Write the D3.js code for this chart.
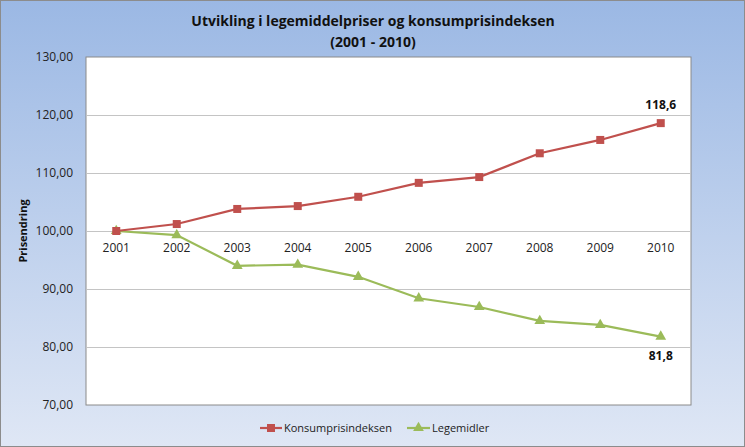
<!DOCTYPE html>
<html><head><meta charset="utf-8">
<script src="https://cdn.jsdelivr.net/npm/d3@7"></script>
<style>body{margin:0;padding:0;overflow:hidden}svg{display:block}</style>
</head><body>
<script>
const years = ["2001","2002","2003","2004","2005","2006","2007","2008","2009","2010"];
const kpi = [100.0,101.2,103.8,104.3,105.9,108.3,109.3,113.4,115.7,118.6];
const legemidler = [100.0,99.3,94.0,94.2,92.1,88.4,86.9,84.5,83.8,81.8];
const yTicks = [70,80,90,100,110,120,130];
const seriesNames = ["Konsumprisindeksen","Legemidler"];

const W=745,H=447;
const font="'Open Sans', 'Liberation Sans', sans-serif";
const svg=d3.select("body").append("svg").attr("width",W).attr("height",H);
const defs=svg.append("defs");
const g=defs.append("linearGradient").attr("id","bg").attr("x1",0).attr("y1",0).attr("x2",0).attr("y2",1);
g.append("stop").attr("offset","0%").attr("stop-color","#9bb8e4");
g.append("stop").attr("offset","100%").attr("stop-color","#dfe7f5");
svg.append("rect").attr("x",0.5).attr("y",0.5).attr("width",W-1).attr("height",H-1).attr("fill","url(#bg)").attr("stroke","#8c8c8c");

const L=86,R=691,T=57,B=405;
svg.append("rect").attr("x",L).attr("y",T).attr("width",R-L).attr("height",B-T).attr("fill","#fff").attr("stroke","#8a8a8a").attr("stroke-width",1);
const x=d3.scaleBand().domain(years).range([L,R]);
const y=d3.scaleLinear().domain([70,130]).range([B,T]);

// gridlines
svg.append("g").selectAll("line").data(yTicks.slice(1,-1)).join("line")
 .attr("x1",L).attr("x2",R).attr("y1",d=>Math.round(y(d))+0.5).attr("y2",d=>Math.round(y(d))+0.5)
 .attr("stroke","#c4c4c4").attr("stroke-width",1);
// y axis
const ya=svg.append("g").attr("transform",`translate(${L},0)`).call(d3.axisLeft(y).tickValues(yTicks).tickFormat(d=>d3.format(".2f")(d).replace(".",",")).tickSize(0).tickPadding(13));
ya.select(".domain").remove();
ya.selectAll("text").attr("font-family",font).attr("font-size",12).attr("fill","#222");
// category axis at 100
const xa=svg.append("g").attr("transform",`translate(0,${y(100)})`).call(d3.axisBottom(x).tickSize(0).tickPadding(12));
xa.select(".domain").remove();
xa.selectAll("text").attr("font-family",font).attr("font-size",12).attr("fill","#222");

// title
svg.append("text").attr("x",373).attr("y",26).attr("text-anchor","middle").attr("font-family",font).attr("font-weight","bold").attr("font-size",14).attr("fill","#111").text("Utvikling i legemiddelpriser og konsumprisindeksen");
svg.append("text").attr("x",373).attr("y",47).attr("text-anchor","middle").attr("font-family",font).attr("font-weight","bold").attr("font-size",14).attr("fill","#111").text("(2001 - 2010)");
svg.append("text").attr("transform",`translate(27,${y(100)}) rotate(-90)`).attr("text-anchor","middle").attr("font-family",font).attr("font-weight","bold").attr("font-size",11).attr("fill","#111").text("Prisendring");

const cx=(d,i)=>x(years[i])+x.bandwidth()/2;
const line=d3.line().x((d,i)=>cx(d,i)).y(d=>y(d));
const red="#c0504d", green="#9bbb59";
svg.append("path").datum(legemidler).attr("d",line).attr("fill","none").attr("stroke",green).attr("stroke-width",2.2);
svg.append("path").datum(kpi).attr("d",line).attr("fill","none").attr("stroke",red).attr("stroke-width",2.2);
const tri=d3.symbol().type(d3.symbolTriangle).size(50);
svg.append("g").selectAll("path").data(legemidler).join("path").attr("d",tri).attr("transform",(d,i)=>`translate(${cx(d,i)},${y(d)})`).attr("fill",green);
svg.append("g").selectAll("rect").data(kpi).join("rect").attr("x",(d,i)=>cx(d,i)-4).attr("y",d=>y(d)-4).attr("width",8).attr("height",8).attr("fill",red);

// data labels
svg.append("text").attr("x",cx(0,9)).attr("y",y(kpi[9])-14).attr("text-anchor","middle").attr("font-family",font).attr("font-weight","bold").attr("font-size",12).attr("fill","#111").text("118,6");
svg.append("text").attr("x",cx(0,9)).attr("y",y(legemidler[9])+23).attr("text-anchor","middle").attr("font-family",font).attr("font-weight","bold").attr("font-size",12).attr("fill","#111").text("81,8");

// legend
const lg=svg.append("g");
const ly=428;
lg.append("line").attr("x1",260).attr("x2",282).attr("y1",ly).attr("y2",ly).attr("stroke",red).attr("stroke-width",2.2);
lg.append("rect").attr("x",267).attr("y",ly-4).attr("width",8).attr("height",8).attr("fill",red);
lg.append("text").attr("x",284).attr("y",ly+4).attr("font-family",font).attr("font-size",11).attr("fill","#222").text(seriesNames[0]);
lg.append("line").attr("x1",407).attr("x2",430).attr("y1",ly).attr("y2",ly).attr("stroke",green).attr("stroke-width",2.2);
lg.append("path").attr("d",tri).attr("transform",`translate(418.5,${ly})`).attr("fill",green);
lg.append("text").attr("x",432).attr("y",ly+4).attr("font-family",font).attr("font-size",11).attr("fill","#222").text(seriesNames[1]);
</script>
</body></html>
